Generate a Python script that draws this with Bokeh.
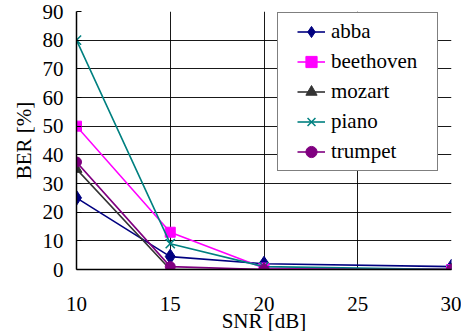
from bokeh.plotting import figure
from bokeh.models import Legend, LegendItem, FixedTicker, Range1d
from bokeh.embed import file_html
from bokeh.resources import INLINE

snr = [10, 15, 20, 30]
abba = [25, 4.5, 2, 1]
beethoven = [50, 13, 0.5, 0]
mozart = [35, 0, 0, 0]
piano = [80, 9, 1, 0]
trumpet = [37.5, 1, 0, 0]

x_ticks = [10, 15, 20, 25, 30]
y_ticks = [0, 10, 20, 30, 40, 50, 60, 70, 80, 90]

FONT = "Times New Roman"

p = figure(output_backend="svg", toolbar_location=None,
           frame_width=375, frame_height=258,
           min_border_left=76, min_border_right=10, min_border_top=11,
           min_border_bottom=58,
           x_range=Range1d(10, 30), y_range=Range1d(0, 90))
p.outline_line_color = None
p.background_fill_color = "white"

for ax in (p.xaxis[0], p.yaxis[0]):
    ax.major_label_text_font = FONT
    ax.major_label_text_font_size = "21px"
    ax.major_label_text_font_style = "normal"
    ax.major_label_text_color = "black"
    ax.axis_label_text_font = FONT
    ax.axis_label_text_font_size = "21px"
    ax.axis_label_text_font_style = "normal"
    ax.axis_label_text_color = "black"
    ax.axis_line_color = "black"
    ax.axis_line_width = 1.5
    ax.minor_tick_line_color = None
    ax.major_tick_line_color = "black"

p.xaxis.ticker = FixedTicker(ticks=x_ticks)
p.yaxis.ticker = FixedTicker(ticks=y_ticks)
p.xaxis.axis_label = "SNR [dB]"
p.yaxis.axis_label = "BER [%]"
p.xaxis.major_tick_in = 0
p.xaxis.major_tick_out = 0
p.xaxis.major_label_standoff = 27
p.xaxis.axis_label_standoff = -5
p.yaxis.major_tick_in = 5
p.yaxis.major_tick_out = 0
p.yaxis.major_label_standoff = 13
p.yaxis.axis_label_standoff = 4

p.xgrid.grid_line_color = "black"
p.ygrid.grid_line_color = "black"
p.xgrid.grid_line_width = 1
p.ygrid.grid_line_width = 1
p.xgrid.grid_line_alpha = 0.9
p.ygrid.grid_line_alpha = 0.9

series = [
    ("abba", abba, "#000080", "diamond", 15),
    ("beethoven", beethoven, "#FF00FF", "square", 10),
    ("mozart", mozart, "#333333", "triangle", 11),
    ("piano", piano, "#008080", "x", 13),
    ("trumpet", trumpet, "#800080", "circle", 10),
]

items = []
for name, ys, col, mk, sz in series:
    r1 = p.line(snr, ys, line_color=col, line_width=1.6)
    kw = dict(marker=mk, size=sz, line_color=col, fill_color=col)
    if mk == "x":
        kw["line_width"] = 1.5
    r2 = p.scatter(snr, ys, **kw)
    items.append(LegendItem(label=name, renderers=[r1, r2]))

legend = Legend(items=items, location=(201, 98))
legend.label_text_font = FONT
legend.label_text_font_size = "21px"
legend.label_text_font_style = "normal"
legend.label_text_color = "black"
legend.border_line_color = "black"
legend.border_line_width = 1.2
legend.background_fill_color = "white"
legend.background_fill_alpha = 1.0
legend.glyph_width = 28
legend.glyph_height = 29
legend.label_height = 29
legend.spacing = 1
legend.padding = 4
legend.label_standoff = 6
legend.label_width = 102
legend.margin = 0
try:
    legend.title = " "
    legend.title_location = "left"
    legend.title_standoff = 10
    legend.title_text_font_size = "4px"
except Exception:
    legend.title = None
p.add_layout(legend, "center")

open("out.html", "w").write(file_html(p, INLINE))
